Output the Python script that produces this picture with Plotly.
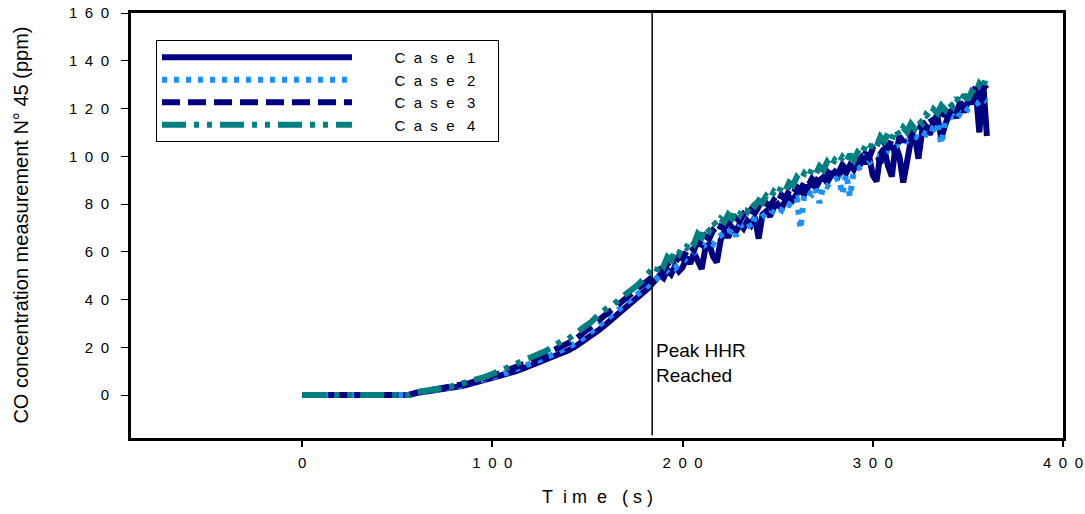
import plotly.graph_objects as go

# ---------------- data ----------------
TIME_S = list(range(0, 181, 4)) + list(range(182, 361, 2))

CASE_1 = [0, 0, 0, 0, 0, 0, 0, 0, 0, 0, 0, 0, 0, 0, 0,
          0.8, 1.2, 1.7, 2.2, 2.7, 3.2, 3.8, 4.6, 5.4, 6.3,
          7.2, 8.0, 8.9, 9.9, 11.0, 12.2, 13.3, 14.5, 15.8, 17.2,
          18.7, 20.5, 22.6, 24.8, 27.2, 29.8, 32.4, 35.0, 37.6, 40.3,
          43.2,
          44.8, 46.6, 48.5, 50.2, 49.0, 52.4, 50.6, 54.0, 51.8, 53.5,
          57.5, 55.0, 59.6, 56.2, 52.8, 61.5, 63.4, 58.0, 55.6, 64.8,
          68.4, 66.0, 70.2, 68.5, 71.6, 69.8, 73.0, 71.2, 74.5, 65.5,
          75.6, 77.0, 74.8, 78.6, 80.0, 78.2, 81.4, 83.0, 81.6, 84.2,
          85.8, 84.0, 87.2, 88.6, 86.8, 89.8, 91.2, 89.0, 92.0, 93.5,
          91.8, 94.6, 93.0, 96.2, 94.4, 97.8, 99.6, 97.0, 100.4, 92.0,
          89.5, 101.0, 103.2, 96.0, 91.5, 104.5, 100.0, 89.0, 98.5, 106.5,
          108.8, 99.0, 110.6, 112.8, 109.0, 114.6, 116.8, 107.5, 113.0, 117.5,
          119.6, 116.0, 121.8, 118.5, 122.8, 124.6, 129.0, 110.0, 131.0, 108.5]

CASE_2 = [0, 0, 0, 0, 0, 0, 0, 0, 0, 0, 0, 0, 0, 0, 0,
          0.9, 1.3, 1.8, 2.3, 2.8, 3.4, 4.0, 4.8, 5.6, 6.6,
          7.5, 8.4, 9.5, 10.6, 11.8, 13.0, 14.3, 15.6, 17.0, 18.4,
          20.0, 21.8, 24.0, 26.5, 29.0, 31.4, 34.0, 36.6, 39.2, 42.0,
          44.6,
          46.0, 47.2, 48.8, 49.6, 51.0, 51.8, 53.6, 53.0, 55.2, 55.8,
          57.4, 58.0, 59.8, 60.6, 61.8, 63.0, 64.4, 63.2, 66.0, 66.8,
          68.0, 67.2, 69.6, 66.5, 70.8, 71.4, 72.6, 70.0, 74.0, 73.2,
          75.0, 76.2, 75.4, 77.8, 78.6, 77.4, 80.2, 79.6, 81.8, 82.4,
          69.5, 84.6, 85.2, 84.0, 86.6, 80.4, 88.0, 87.4, 89.6, 90.2,
          91.0, 84.0, 92.6, 83.0, 94.0, 94.8, 95.6, 96.8, 97.4, 99.0,
          100.2, 99.6, 101.8, 102.6, 102.0, 104.2, 105.0, 104.4, 106.6, 107.2,
          108.4, 107.6, 110.0, 109.2, 112.0, 111.4, 113.6, 105.0, 114.8, 116.0,
          116.8, 115.4, 118.2, 117.6, 119.8, 120.6, 121.4, 122.8, 124.0, 123.0]

CASE_3 = [0, 0, 0, 0, 0, 0, 0, 0, 0, 0, 0, 0, 0, 0, 0,
          1.0, 1.5, 1.9, 2.5, 3.1, 3.6, 4.4, 5.0, 6.1, 7.0,
          8.2, 9.1, 10.4, 11.4, 12.9, 14.2, 15.7, 16.8, 18.6, 19.9,
          21.8, 23.6, 26.2, 28.4, 31.3, 33.6, 36.2, 38.5, 41.4, 43.6,
          46.4,
          47.6, 49.4, 51.0, 52.6, 51.8, 54.8, 56.0, 55.2, 58.0, 57.2,
          60.0, 62.4, 60.8, 64.2, 63.0, 66.6, 65.4, 68.8, 67.2, 70.6,
          69.8, 72.4, 71.0, 74.2, 72.8, 75.6, 74.0, 77.4, 76.2, 78.8,
          77.2, 80.4, 79.0, 81.6, 80.2, 83.8, 82.4, 85.6, 84.0, 87.2,
          86.0, 89.0, 87.6, 90.6, 88.8, 92.0, 90.4, 93.6, 92.0, 95.0,
          93.2, 96.4, 94.6, 97.6, 95.8, 99.2, 97.6, 101.0, 99.4, 103.2,
          101.2, 97.0, 105.6, 103.0, 107.2, 99.5, 108.4, 106.0, 110.6, 108.0,
          112.0, 110.2, 114.6, 112.4, 116.2, 113.8, 118.0, 115.6, 119.4, 117.6,
          121.0, 118.8, 122.6, 120.4, 124.2, 122.0, 126.2, 124.6, 128.4, 130.0]

CASE_4 = [0, 0, 0, 0, 0, 0, 0, 0, 0, 0, 0, 0, 0, 0, 0,
          1.2, 1.6, 2.3, 2.8, 3.2, 3.9, 4.8, 5.3, 6.5, 7.6,
          8.8, 10.2, 11.0, 12.6, 14.0, 15.6, 17.2, 18.4, 20.3, 22.4,
          23.5, 26.2, 28.4, 30.6, 33.9, 36.2, 38.1, 41.0, 43.4, 45.8,
          49.0,
          50.5, 52.8, 51.2, 55.6, 54.0, 57.8, 56.5, 60.4, 59.0, 62.6,
          61.8, 65.2, 63.4, 67.5, 66.0, 70.4, 68.8, 72.6, 71.0, 73.8,
          72.5, 75.6, 74.0, 77.2, 75.4, 78.6, 77.0, 80.8, 79.2, 81.5,
          80.6, 83.4, 82.0, 85.2, 83.8, 87.4, 85.6, 89.0, 87.8, 91.2,
          89.6, 92.8, 91.0, 94.6, 92.5, 95.8, 94.2, 97.6, 95.5, 98.4,
          96.8, 99.6, 97.5, 100.8, 98.4, 101.6, 100.2, 104.4, 102.6, 105.8,
          104.0, 108.2, 106.4, 109.6, 107.0, 111.4, 108.6, 112.0, 110.2, 113.6,
          111.6, 115.2, 113.8, 117.4, 116.0, 119.6, 118.0, 121.2, 119.4, 122.6,
          120.8, 124.4, 122.0, 125.8, 123.6, 127.2, 126.0, 130.4, 128.6, 134.5]

CASE_NAMES = ["Case 1", "Case 2", "Case 3", "Case 4"]
X_TICKS = [0, 100, 200, 300, 400]
Y_TICKS = [0, 20, 40, 60, 80, 100, 120, 140, 160]
PEAK_TIME = 184
PEAK_LABEL = "Peak HHR<br>Reached"

# ---------------- styling ----------------
FONT = "Liberation Sans, Arial, sans-serif"
SP = "\u2002"


def spaced(s, gap=SP):
    return gap.join(list(s))


def legend_label(name):
    word, num = name.split(" ")
    return "\u00a0" * 9 + spaced(word, "\u00a0\u00a0") + "\u00a0\u00a0\u00a0" + num + "\u00a0" * 4


styles = [
    dict(color="#000080", dash="solid"),
    dict(color="#1E8FFF", dash="5px,7px"),
    dict(color="#000080", dash="18px,8px"),
    dict(color="#008080", dash="24px,8px,5px,8px,5px,8px"),
]

fig = go.Figure()
for name, vals, st in zip(CASE_NAMES, [CASE_1, CASE_2, CASE_3, CASE_4], styles):
    fig.add_trace(go.Scatter(
        x=TIME_S, y=vals, mode="lines", name=legend_label(name),
        line=dict(color=st["color"], width=6, dash=st["dash"]),
    ))

fig.add_shape(type="line", xref="x", yref="y", x0=PEAK_TIME, x1=PEAK_TIME,
              y0=-16.8, y1=160, line=dict(color="black", width=1.5))

fig.add_annotation(x=PEAK_TIME, y=13.5, xref="x", yref="y", text=PEAK_LABEL,
                   showarrow=False, xanchor="left", yanchor="middle", align="left",
                   xshift=2, font=dict(family=FONT, size=19, color="black"))

fig.add_annotation(x=-0.119, y=0.5, xref="paper", yref="paper",
                   text="CO concentration measurement N° 45 (ppm)",
                   textangle=-90, showarrow=False, xanchor="center", yanchor="middle",
                   font=dict(family=FONT, size=20, color="black"))

fig.add_annotation(x=0.5, y=-0.139, xref="paper", yref="paper",
                   text="T\u00a0\u00a0i\u00a0m\u00a0\u00a0e\u00a0\u00a0\u00a0(\u00a0s\u00a0)",
                   showarrow=False, xanchor="center", yanchor="middle",
                   font=dict(family=FONT, size=18, color="black"))

fig.update_layout(
    width=1085, height=514,
    margin=dict(l=131, r=22, t=13, b=76),
    plot_bgcolor="white", paper_bgcolor="white",
    font=dict(family=FONT, color="black"),
    legend=dict(x=0.0268, y=0.9365, xanchor="left", yanchor="top",
                bgcolor="white", bordercolor="black", borderwidth=1,
                itemwidth=190, font=dict(family=FONT, size=15, color="black"),
                tracegroupgap=0),
    showlegend=True,
)

fig.update_xaxes(range=[-90, 400], tickvals=X_TICKS,
                 ticktext=[spaced(str(v)) for v in X_TICKS],
                 showgrid=False, zeroline=False, showline=True, linewidth=3,
                 linecolor="black", mirror=True, ticks="outside", ticklen=6,
                 tickwidth=2, tickcolor="black", ticklabelstandoff=3,
                 automargin=False,
                 tickfont=dict(family=FONT, size=15, color="black"))
fig.update_yaxes(range=[-18, 160], tickvals=Y_TICKS,
                 ticktext=[spaced(str(v)) for v in Y_TICKS],
                 showgrid=False, zeroline=False, showline=True, linewidth=3,
                 linecolor="black", mirror=True, ticks="outside", ticklen=7,
                 tickwidth=1, tickcolor="black", ticklabelstandoff=9,
                 automargin=False,
                 tickfont=dict(family=FONT, size=15, color="black"))

fig.write_html("out.html")
